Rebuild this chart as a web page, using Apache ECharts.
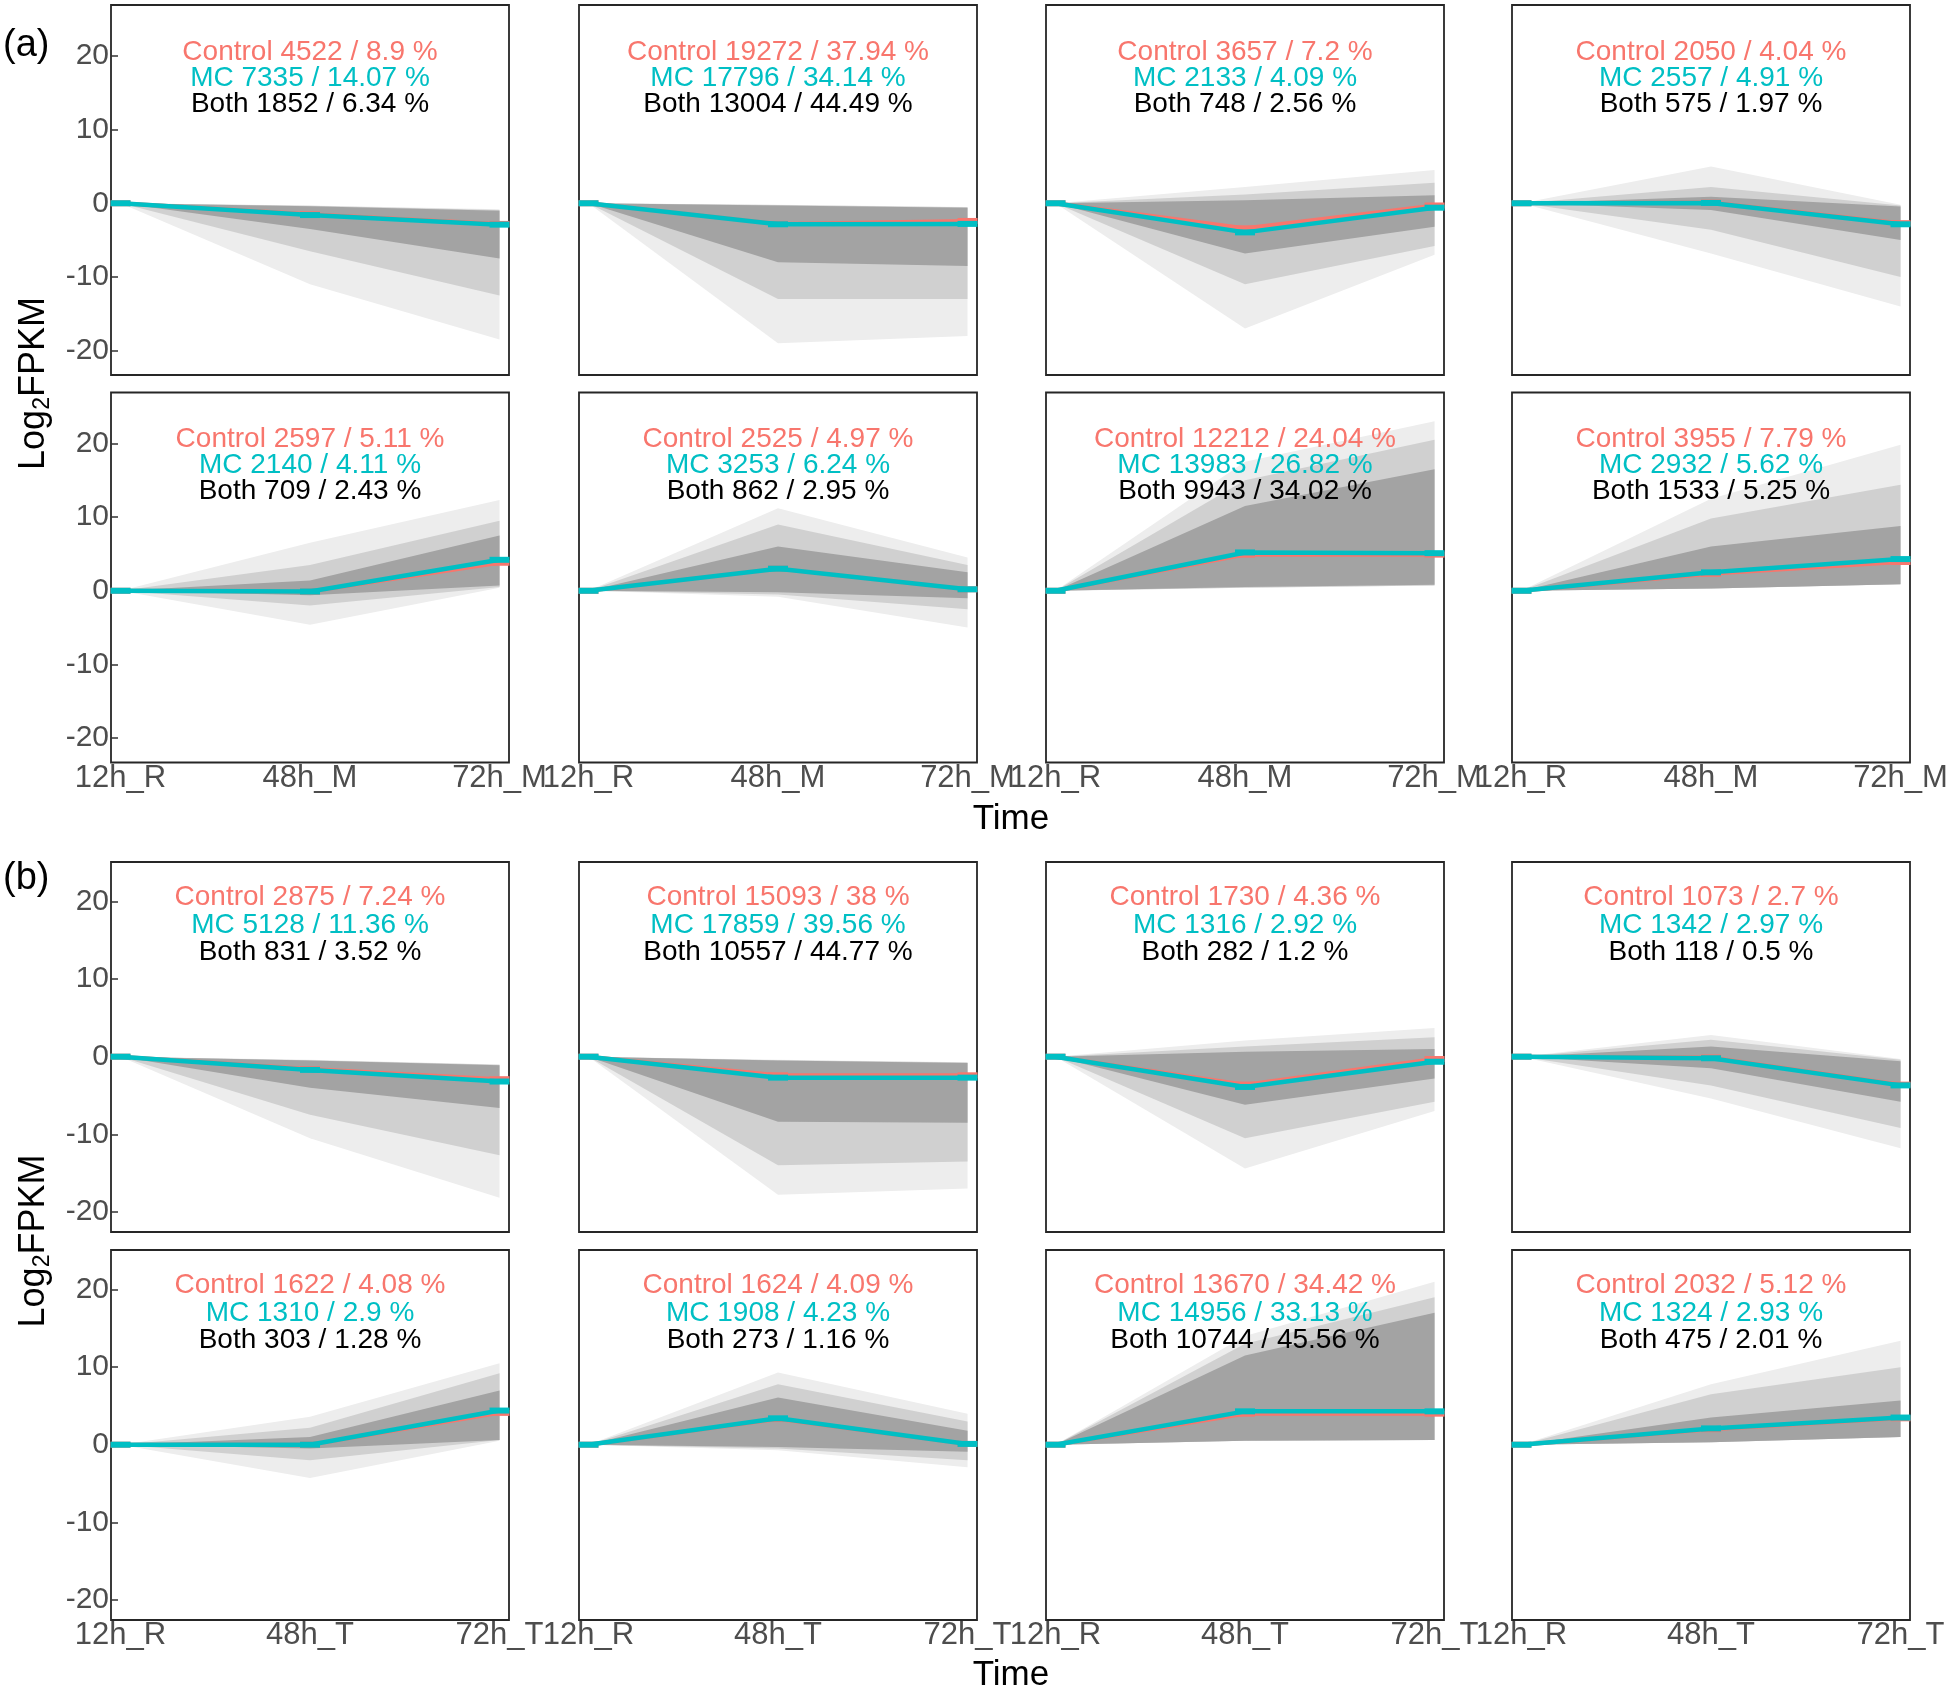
<!DOCTYPE html>
<html><head><meta charset="utf-8">
<script src="https://cdn.jsdelivr.net/npm/echarts@6/dist/echarts.min.js"></script>
<style>html,body{margin:0;padding:0;background:#fff}#c{width:1946px;height:1691px}</style>
</head><body><div id="c"></div>
<script>
// ---------- DATA ----------
const timeLabelsA = ['12h_R', '48h_M', '72h_M'];
const timeLabelsB = ['12h_R', '48h_T', '72h_T'];
const yTicks = [-20, -10, 0, 10, 20];

// panel order: (a) row1 c1..c4, (a) row2 c1..c4, (b) row1 c1..c4, (b) row2 c1..c4
const controlN   = [4522, 19272, 3657, 2050, 2597, 2525, 12212, 3955, 2875, 15093, 1730, 1073, 1622, 1624, 13670, 2032];
const controlPct = [8.9, 37.94, 7.2, 4.04, 5.11, 4.97, 24.04, 7.79, 7.24, 38, 4.36, 2.7, 4.08, 4.09, 34.42, 5.12];
const mcN        = [7335, 17796, 2133, 2557, 2140, 3253, 13983, 2932, 5128, 17859, 1316, 1342, 1310, 1908, 14956, 1324];
const mcPct      = [14.07, 34.14, 4.09, 4.91, 4.11, 6.24, 26.82, 5.62, 11.36, 39.56, 2.92, 2.97, 2.9, 4.23, 33.13, 2.93];
const bothN      = [1852, 13004, 748, 575, 709, 862, 9943, 1533, 831, 10557, 282, 118, 303, 273, 10744, 475];
const bothPct    = [6.34, 44.49, 2.56, 1.97, 2.43, 2.95, 34.02, 5.25, 3.52, 44.77, 1.2, 0.5, 1.28, 1.16, 45.56, 2.01];

// mean profiles (12h, 48h, 72h)
const controlMean = [
  [0,-1.5,-2.8],[0,-2.8,-2.4],[0,-3.4,-0.3],[0,0.1,-2.7],
  [0,-0.1,3.8],[0,3.0,0.2],[0,4.9,4.9],[0,2.3,3.9],
  [0,-1.6,-2.9],[0,-2.4,-2.4],[0,-3.6,-0.3],[0,-0.1,-3.6],
  [0,0.0,4.1],[0,3.3,0.1],[0,4.0,4.0],[0,2.0,3.4]
];
const mcMean = [
  [0,-1.6,-2.9],[0,-2.85,-2.8],[0,-3.95,-0.6],[0,0.05,-2.85],
  [0,-0.1,4.2],[0,3.0,0.2],[0,5.2,5.1],[0,2.5,4.3],
  [0,-1.7,-3.2],[0,-2.7,-2.7],[0,-3.9,-0.65],[0,-0.2,-3.7],
  [0,0.0,4.4],[0,3.4,0.1],[0,4.3,4.3],[0,2.1,3.5]
];

// envelopes of the individual gene profiles (faint outer, medium, dense core)
const outerLow = [
  [0,-11,-18.5],[0,-19,-18],[0,-17,-7],[0,-6.8,-14],
  [0,-4.6,0.4],[0,-0.8,-5],[0,0.4,0.7],[0,0.3,0.9],
  [0,-10.5,-18.2],[0,-17.8,-17],[0,-14.4,-7],[0,-5.4,-11.8],
  [0,-4.3,0.5],[0,-0.7,-2.9],[0,0.5,0.6],[0,0.3,1.0]
];
const outerHigh = [
  [0,-0.3,-0.8],[0,-0.2,-0.5],[0,2.2,4.5],[0,5,-0.2],
  [0,6.5,12.3],[0,11.2,4.5],[0,17.5,23],[0,12.5,19.8],
  [0,-0.4,-1.0],[0,-0.4,-0.7],[0,2.1,3.7],[0,2.8,-0.3],
  [0,3.6,10.5],[0,9.3,4],[0,14,21],[0,7.8,13.4]
];
const midLow = [
  [0,-6.5,-12.5],[0,-13,-13],[0,-11,-5.8],[0,-3.6,-10],
  [0,-2,0.5],[0,-0.5,-2.5],[0,0.4,0.7],[0,0.3,0.9],
  [0,-7.5,-12.7],[0,-14,-13.5],[0,-10.5,-5.8],[0,-3.7,-9.2],
  [0,-2,0.6],[0,-0.5,-2],[0,0.5,0.6],[0,0.3,1.0]
];
const midHigh = [
  [0,-0.35,-0.9],[0,-0.25,-0.55],[0,1.2,2.8],[0,2.2,-0.3],
  [0,3.5,9.5],[0,9,3.5],[0,15,20.5],[0,9.8,14.4],
  [0,-0.45,-1.05],[0,-0.45,-0.75],[0,1.3,2.5],[0,2.2,-0.4],
  [0,2.2,9.2],[0,7.8,3],[0,13,19],[0,6.5,10]
];
const coreLow = [
  [0,-3.5,-7.5],[0,-8,-8.5],[0,-6.8,-3.2],[0,-0.9,-5],
  [0,-0.6,0.7],[0,-0.2,-1],[0,0.5,0.8],[0,0.3,0.9],
  [0,-4,-6.6],[0,-8.4,-8.5],[0,-6.2,-2.8],[0,-1.5,-5.8],
  [0,-0.5,0.6],[0,-0.3,-0.9],[0,0.5,0.6],[0,0.3,1.0]
];
const coreHigh = [
  [0,-0.4,-1.0],[0,-0.3,-0.6],[0,0.4,1.1],[0,0.9,-0.45],
  [0,1.4,7.5],[0,6,2.5],[0,11.5,16.5],[0,6,8.8],
  [0,-0.5,-1.1],[0,-0.5,-0.8],[0,0.65,1.0],[0,1.3,-0.6],
  [0,1,7],[0,6.1,1.8],[0,11.5,17],[0,3.5,5.7]
];
const textY = [20.55, 17.0, 13.45];

// ---------- LAYOUT ----------
const FONT = "'Liberation Sans', Arial, Helvetica, sans-serif";
const RED = '#F8766D', CYAN = '#00BFC4';
const gridLeft = [111, 579, 1046, 1512];
const gridTop = [5, 392.5, 862, 1250];
const GW = 398, GH = 370;
const yRange = [[-23.3, 26.9], [-22.6, 25.1]];

const grids = [], xAxes = [], yAxes = [], series = [];

function bandSeries(gi, lo, hi, color, z) {
  return {
    type: 'custom', xAxisIndex: gi, yAxisIndex: gi, silent: true, z: z,
    data: [[lo[0], lo[1], lo[2], hi[0], hi[1], hi[2]]],
    renderItem: function (params, api) {
      const pts = [];
      for (let k = 0; k < 3; k++) pts.push(api.coord([k + 1, api.value(k)]));
      for (let k = 2; k >= 0; k--) pts.push(api.coord([k + 1, api.value(3 + k)]));
      return { type: 'polygon', shape: { points: pts }, style: { fill: color } };
    }
  };
}

for (let i = 0; i < 16; i++) {
  const row = Math.floor(i / 4), col = i % 4, sec = row < 2 ? 0 : 1;
  const labels = sec === 0 ? timeLabelsA : timeLabelsB;
  const showX = (row === 1 || row === 3);
  grids.push({ left: gridLeft[col], top: gridTop[row], width: GW, height: GH, show: true,
    borderColor: '#262626', borderWidth: 1.8, backgroundColor: 'transparent', containLabel: false, outerBoundsMode: 'none' });
  xAxes.push({ type: 'value', gridIndex: i, min: 0.95, max: 3.05,
    axisLine: { show: false }, axisTick: { show: false }, splitLine: { show: false },
    axisLabel: { show: showX, customValues: [1, 2, 3], formatter: function (v) { return labels[Math.round(v) - 1]; },
      color: '#4d4d4d', fontSize: 31, fontFamily: FONT, margin: 0 } });
  yAxes.push({ type: 'value', gridIndex: i, min: yRange[sec][0], max: yRange[sec][1],
    axisLine: { show: false }, splitLine: { show: false },
    axisTick: { show: col === 0, inside: true, length: 7, customValues: yTicks, lineStyle: { color: '#333', width: 1.5 } },
    axisLabel: { show: col === 0, customValues: yTicks, color: '#4d4d4d', fontSize: 30, fontFamily: FONT, margin: 2 } });

  series.push(bandSeries(i, outerLow[i], outerHigh[i], '#ededed', 1));
  series.push(bandSeries(i, midLow[i], midHigh[i], '#d0d0d0', 2));
  series.push(bandSeries(i, coreLow[i], coreHigh[i], '#a3a3a3', 3));

  series.push({ type: 'line', xAxisIndex: i, yAxisIndex: i, silent: true, z: 4,
    data: controlMean[i].map((v, k) => [k + 1, v]),
    symbol: 'rect', symbolSize: [20, 6], showSymbol: true,
    lineStyle: { color: RED, width: 4 }, itemStyle: { color: RED } });
  series.push({ type: 'line', xAxisIndex: i, yAxisIndex: i, silent: true, z: 5,
    data: mcMean[i].map((v, k) => [k + 1, v]),
    symbol: 'rect', symbolSize: [20, 6], showSymbol: true,
    lineStyle: { color: CYAN, width: 4.5 }, itemStyle: { color: CYAN } });

  const txt = [
    ['Control ' + controlN[i] + ' / ' + controlPct[i] + ' %', RED],
    ['MC ' + mcN[i] + ' / ' + mcPct[i] + ' %', CYAN],
    ['Both ' + bothN[i] + ' / ' + bothPct[i] + ' %', '#000000']
  ];
  series.push({ type: 'scatter', xAxisIndex: i, yAxisIndex: i, silent: true, z: 10,
    symbolSize: 1, itemStyle: { color: 'rgba(0,0,0,0)', opacity: 1 },
    data: txt.map((t, k) => ({ value: [2, textY[k]],
      label: { show: true, position: 'inside', formatter: t[0], color: t[1], opacity: 1, fontSize: 28, fontFamily: FONT } })) });
}

const graphics = [
  { type: 'text', left: 3, top: 27, style: { text: '(a)', fontSize: 38, fontFamily: FONT, fill: '#000' } },
  { type: 'text', left: 3, top: 860, style: { text: '(b)', fontSize: 38, fontFamily: FONT, fill: '#000' } },
  { type: 'text', x: 1011, y: 819, style: { text: 'Time', fontSize: 35, fontFamily: FONT, fill: '#000', align: 'center', verticalAlign: 'middle' } },
  { type: 'text', x: 1011, y: 1675, style: { text: 'Time', fontSize: 35, fontFamily: FONT, fill: '#000', align: 'center', verticalAlign: 'middle' } }
];
[383.5, 1241].forEach(function (cy) {
  graphics.push({ type: 'text', x: 34, y: cy, rotation: Math.PI / 2,
    style: { text: '{a|Log}{s|2}{a|FPKM}', align: 'center', verticalAlign: 'middle', fill: '#000',
      rich: { a: { fontSize: 36, lineHeight: 40, fontFamily: FONT, fill: '#000' },
              s: { fontSize: 23, lineHeight: 23, verticalAlign: 'bottom', fontFamily: FONT, fill: '#000' } } } });
});

const chart = echarts.init(document.getElementById('c'), null, { renderer: 'canvas' });
chart.setOption({
  animation: false,
  backgroundColor: '#ffffff',
  grid: grids, xAxis: xAxes, yAxis: yAxes, series: series, graphic: graphics
});
</script></body></html>
